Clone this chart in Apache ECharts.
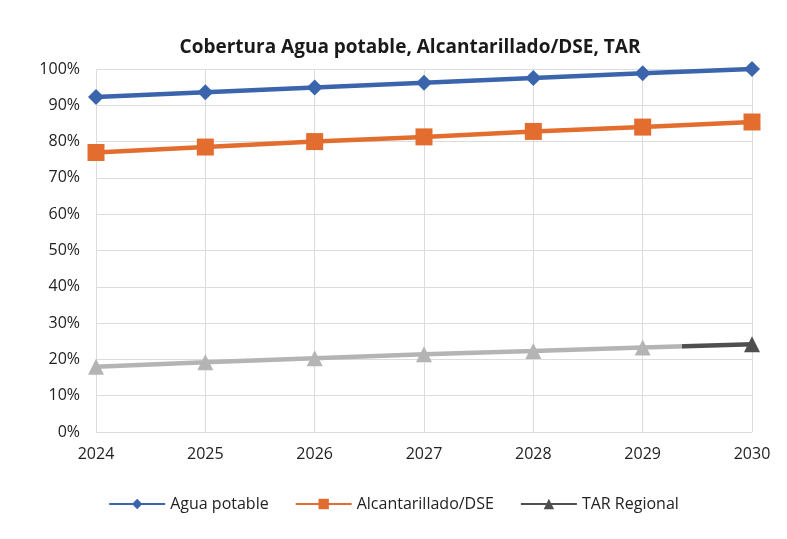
<!DOCTYPE html>
<html>
<head>
<meta charset="utf-8">
<script src="https://cdn.jsdelivr.net/npm/echarts@6/dist/echarts.min.js"></script>
<style>
  html, body { margin: 0; padding: 0; background: #fff; }
  #chart { width: 787px; height: 539px; }
</style>
</head>
<body>
<div id="chart"></div>
<script>
// años
var years = ["2024", "2025", "2026", "2027", "2028", "2029", "2030"];
// cobertura (%)
var aguaPotable = [92.3, 93.6, 94.9, 96.2, 97.5, 98.8, 100];
var alcantarillado = [77.0, 78.5, 80.0, 81.3, 82.8, 84.0, 85.4];
var tarRegional = [18, 19.2, 20.3, 21.4, 22.3, 23.3, 24.2];

var font = "'Open Sans', 'Noto Sans', sans-serif";
var grisClaro = "#b4b4b4";
var grisOscuro = "#4f4f4f";

// el último punto de TAR va en gris oscuro
var tarData = tarRegional.map(function (v, i) {
  if (i === tarRegional.length - 1) {
    return { value: v, itemStyle: { color: grisOscuro } };
  }
  return v;
});

var chart = echarts.init(document.getElementById("chart"));
chart.setOption({
  backgroundColor: "#ffffff",
  textStyle: { fontFamily: font },
  title: {
    text: "Cobertura Agua potable, Alcantarillado/DSE, TAR",
    left: 405,
    textAlign: "center",
    top: 33,
    textStyle: { fontSize: 19, fontWeight: "bold", color: "#1a1a1a", fontFamily: font }
  },
  legend: {
    bottom: 22,
    left: "center",
    itemWidth: 56,
    itemHeight: 13,
    itemGap: 26,
    textStyle: { fontSize: 16, color: "#222", fontFamily: font },
    data: [
      "Agua potable",
      "Alcantarillado/DSE",
      { name: "TAR Regional", itemStyle: { color: grisOscuro }, lineStyle: { color: grisOscuro } }
    ]
  },
  grid: { left: 96, right: 35, top: 69, bottom: 107 },
  xAxis: {
    type: "category",
    data: years,
    boundaryGap: false,
    axisLine: { show: false },
    axisTick: { show: false },
    axisLabel: { color: "#222", fontSize: 16, margin: 14 },
    splitLine: { show: true, lineStyle: { color: "#dcdcdc", width: 1 } }
  },
  yAxis: {
    type: "value",
    min: 0,
    max: 100,
    interval: 10,
    axisLine: { show: false },
    axisTick: { show: false },
    axisLabel: { color: "#222", fontSize: 16, margin: 16, formatter: "{value}%" },
    splitLine: { lineStyle: { color: "#dcdcdc", width: 1 } }
  },
  series: [
    {
      name: "Agua potable",
      type: "line",
      data: aguaPotable,
      symbol: "diamond",
      symbolSize: 16,
      itemStyle: { color: "#3a65ad" },
      lineStyle: { width: 4.5, color: "#3a65ad" }
    },
    {
      name: "Alcantarillado/DSE",
      type: "line",
      data: alcantarillado,
      symbol: "rect",
      symbolSize: 17,
      itemStyle: { color: "#e36c2f" },
      lineStyle: { width: 4.5, color: "#e36c2f" }
    },
    {
      name: "TAR Regional",
      type: "line",
      data: tarData,
      symbol: "triangle",
      symbolSize: 16,
      itemStyle: { color: grisClaro },
      lineStyle: {
        width: 4.5,
        color: new echarts.graphic.LinearGradient(0, 0, 1, 0, [
          { offset: 0, color: grisClaro },
          { offset: 0.89, color: grisClaro },
          { offset: 0.89, color: grisOscuro },
          { offset: 1, color: grisOscuro }
        ])
      }
    }
  ]
});
</script>
</body>
</html>
